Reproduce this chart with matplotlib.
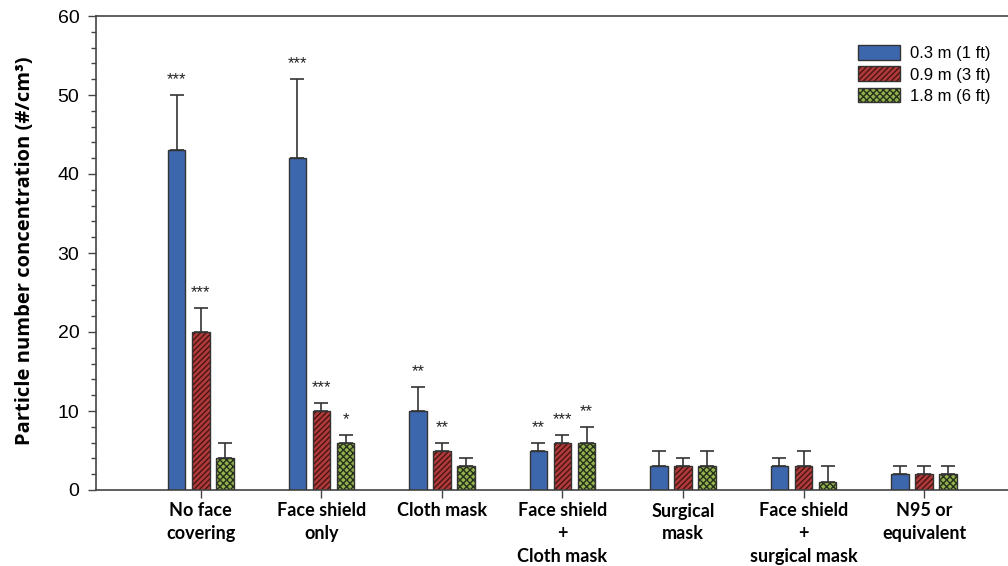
import matplotlib
matplotlib.use("Agg")
import matplotlib.pyplot as plt
import numpy as np
from matplotlib.ticker import MultipleLocator
from matplotlib.legend_handler import HandlerBase

categories = ["No face\ncovering", "Face shield\nonly", "Cloth mask",
              "Face shield\n+\nCloth mask", "Surgical\nmask",
              "Face shield\n+\nsurgical mask", "N95 or\nequivalent"]
series = ["0.3 m (1 ft)", "0.9 m (3 ft)", "1.8 m (6 ft)"]
mean_03 = [43, 42, 10, 5, 3, 3, 2]
mean_09 = [20, 10, 5, 6, 3, 3, 2]
mean_18 = [4, 6, 3, 6, 3, 1, 2]
err_03 = [7, 10, 3, 1, 2, 1, 1]
err_09 = [3, 1, 1, 1, 1, 2, 1]
err_18 = [2, 1, 1, 2, 2, 2, 1]
stars_03 = ["***", "***", "**", "**", "", "", ""]
stars_09 = ["***", "***", "**", "***", "", "", ""]
stars_18 = ["", "*", "", "**", "", "", ""]

plt.rcParams['hatch.linewidth'] = 1.0

fig = plt.figure(figsize=(10.08, 5.66), dpi=100)
ax = fig.add_axes([96 / 1008, 1 - 490 / 566, 1 - 96 / 1008 + 0.01, (490 - 16) / 566])

x = np.arange(len(categories))
width = 0.145
pitch = 0.2
styles = [
    dict(color="#3d67ad", hatch=None, hcolor="#3d67ad"),
    dict(color="#b13a3a", hatch="//////", hcolor="#4a1414"),
    dict(color="#93b24e", hatch="xxxxx", hcolor="#26301a"),
]
means = [mean_03, mean_09, mean_18]
errs = [err_03, err_09, err_18]
stars = [stars_03, stars_09, stars_18]

handles = []
for i in range(3):
    pos = x + (i - 1) * pitch
    st = styles[i]
    ax.bar(pos, means[i], width, color=st["color"], edgecolor=st["hcolor"],
           hatch=st["hatch"], linewidth=0, zorder=2)
    ax.bar(pos, means[i], width, fill=False, edgecolor="#333333",
           linewidth=1.0, zorder=3)
    ax.errorbar(pos, means[i], yerr=[np.zeros(len(x)), errs[i]], fmt="none",
                ecolor="#333333", elinewidth=1.2, capsize=5, capthick=1.2, zorder=1)
    for px, m, e, s in zip(pos, means[i], errs[i], stars[i]):
        if s:
            ax.text(px, m + e + 1.0, s, ha="center", va="bottom",
                    fontsize=12, color="#222222", family="Liberation Sans")
    handles.append(plt.Rectangle((0, 0), 1, 1, facecolor=st["color"],
                                 edgecolor=st["hcolor"], hatch=st["hatch"], linewidth=0))


class OutlinedHandler(HandlerBase):
    def create_artists(self, legend, orig, xd, yd, w, h, fontsize, trans):
        r = plt.Rectangle((-xd, -yd), w, h, facecolor=orig.get_facecolor(),
                          edgecolor=orig.get_edgecolor(), hatch=orig.get_hatch(),
                          linewidth=0, transform=trans)
        o = plt.Rectangle((-xd, -yd), w, h, fill=False, edgecolor="#333333",
                          linewidth=1.0, transform=trans)
        return [r, o]


ax.legend(handles, series, loc="upper right", bbox_to_anchor=(0.986, 0.97),
          frameon=False, handler_map={plt.Rectangle: OutlinedHandler()},
          handlelength=2.5, handleheight=1.0, labelspacing=0.3,
          handletextpad=0.6, prop={"family": "Liberation Sans", "size": 12})

ax.set_xlim(-0.87, 6.78)
ax.set_ylim(0, 60)
ax.yaxis.set_major_locator(MultipleLocator(10))
ax.yaxis.set_minor_locator(MultipleLocator(2))
ax.set_xticks(x)
ax.set_xticklabels(categories, family="Lato", weight="bold", fontsize=13,
                   linespacing=1.4, va="top")
for lbl in ax.get_yticklabels():
    lbl.set_family("Liberation Sans")
    lbl.set_fontsize(14)
ax.tick_params(axis="y", which="major", direction="out", length=6, width=1, color="#444444", pad=6)
ax.tick_params(axis="y", which="minor", direction="out", length=3.5, width=1, color="#444444")
ax.tick_params(axis="x", direction="out", length=6, width=1, color="#444444", pad=3)
ax.spines["right"].set_visible(False)
for s in ["left", "top", "bottom"]:
    ax.spines[s].set_color("#444444")
    ax.spines[s].set_linewidth(1.2)

ax.set_ylabel("Particle number concentration (#/cm³)", family="Open Sans",
              weight="bold", fontsize=14.5)
ax.yaxis.set_label_coords(-0.077, 0.505)
ax.yaxis.label.set_verticalalignment("center")

fig.savefig("out.png", dpi=100)
